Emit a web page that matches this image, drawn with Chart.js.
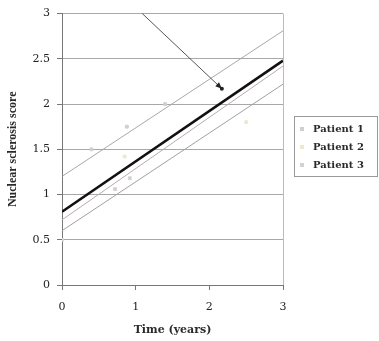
<!DOCTYPE html>
<html>
<head>
<meta charset="utf-8">
<script src="https://cdn.jsdelivr.net/npm/chart.js@4.4.0/dist/chart.umd.min.js"></script>
<style>
  html, body { margin: 0; padding: 0; background: #fff; }
  #wrap { width: 379px; height: 341px; }
</style>
</head>
<body>
<div id="wrap"><canvas id="chart"></canvas></div>
<script>
// tick labels
const xTicks = [0, 1, 2, 3];
const yTicks = [0, 0.5, 1, 1.5, 2, 2.5, 3];

// patient names and marker colours
const patients = ["Patient 1", "Patient 2", "Patient 3"];
const patientColors = ["#cfcfcf", "#eee8cc", "#d2d2d2"];

// raw observations (faint in the scan)
const p1Points = [{ x: 0.4, y: 1.5 }, { x: 0.88, y: 1.75 }, { x: 1.4, y: 2.0 }];
const p2Points = [{ x: 0.85, y: 1.42 }, { x: 2.5, y: 1.8 }];
const p3Points = [{ x: 0.0, y: 0.5 }, { x: 0.72, y: 1.06 }, { x: 0.92, y: 1.18 }];

// fitted lines (value at x=0 and x=3)
const p1Fit = [{ x: 0, y: 1.2 }, { x: 3, y: 2.81 }];
const p2Fit = [{ x: 0, y: 0.72 }, { x: 3, y: 2.42 }];
const p3Fit = [{ x: 0, y: 0.6 }, { x: 3, y: 2.22 }];
const meanFit = [{ x: 0, y: 0.81 }, { x: 3, y: 2.48 }];

// annotation arrow, from / to in data units
const arrowFrom = { x: 1.09, y: 3.0 };
const arrowTo = { x: 2.17, y: 2.17 };

const serif = "'Liberation Serif', 'DejaVu Serif', serif";
const wide = "'DejaVu Serif', serif";

const extras = {
  id: "extras",
  afterDraw(chart) {
    const ctx = chart.ctx;
    const xs = chart.scales.x, ys = chart.scales.y;
    // arrow
    const x1 = xs.getPixelForValue(arrowFrom.x), y1 = ys.getPixelForValue(arrowFrom.y);
    const x2 = xs.getPixelForValue(arrowTo.x), y2 = ys.getPixelForValue(arrowTo.y);
    ctx.save();
    ctx.strokeStyle = "#555";
    ctx.fillStyle = "#222";
    ctx.lineWidth = 1;
    ctx.beginPath();
    ctx.moveTo(x1, y1);
    ctx.lineTo(x2, y2);
    ctx.stroke();
    const a = Math.atan2(y2 - y1, x2 - x1);
    ctx.beginPath();
    ctx.moveTo(x2, y2);
    ctx.lineTo(x2 - 7 * Math.cos(a - 0.4), y2 - 7 * Math.sin(a - 0.4));
    ctx.lineTo(x2 - 7 * Math.cos(a + 0.4), y2 - 7 * Math.sin(a + 0.4));
    ctx.closePath();
    ctx.fill();
    ctx.beginPath();
    ctx.arc(x2, y2, 2, 0, Math.PI * 2);
    ctx.fill();
    // right border of plot
    const ca = chart.chartArea;
    ctx.strokeStyle = "#bbb";
    ctx.beginPath();
    ctx.moveTo(ca.right + 0.5, ca.top);
    ctx.lineTo(ca.right + 0.5, ca.bottom);
    ctx.stroke();
    // legend
    ctx.strokeStyle = "#999";
    ctx.strokeRect(294.5, 116.5, 83, 60);
    ctx.font = "bold 10px " + wide;
    ctx.textBaseline = "middle";
    ctx.textAlign = "left";
    patients.forEach((name, i) => {
      const cy = 129 + i * 18;
      ctx.fillStyle = patientColors[i];
      ctx.fillRect(300, cy - 2, 4, 4);
      ctx.fillStyle = "#2a2a2a";
      ctx.fillText(name, 313, cy);
    });
    ctx.restore();
  }
};

const fitStyle = { type: "line", showLine: true, pointRadius: 0, borderWidth: 1, fill: false };

new Chart(document.getElementById("chart"), {
  type: "scatter",
  data: {
    datasets: [
      { label: patients[0], data: p1Points, pointStyle: "rect", pointRadius: 2, backgroundColor: patientColors[0], borderColor: patientColors[0] },
      { label: patients[1], data: p2Points, pointStyle: "rect", pointRadius: 2, backgroundColor: patientColors[1], borderColor: patientColors[1] },
      { label: patients[2], data: p3Points, pointStyle: "rect", pointRadius: 2, backgroundColor: patientColors[2], borderColor: patientColors[2] },
      { ...fitStyle, label: "fit1", data: p1Fit, borderColor: "#a8a8a8" },
      { ...fitStyle, label: "fit2", data: p2Fit, borderColor: "#b8aab2" },
      { ...fitStyle, label: "fit3", data: p3Fit, borderColor: "#a0a0a0" },
      { ...fitStyle, label: "mean", data: meanFit, borderColor: "#111", borderWidth: 2.5 }
    ]
  },
  options: {
    responsive: true,
    maintainAspectRatio: false,
    animation: false,
    layout: { padding: { left: 0, right: 96, top: 11, bottom: 3 } },
    plugins: {
      tooltip: { enabled: false },
      legend: { display: false }
    },
    scales: {
      x: {
        type: "linear",
        min: 0,
        max: 3,
        afterBuildTicks: (s) => { s.ticks = xTicks.map((v) => ({ value: v })); },
        afterFit: (s) => { s.height = 53; },
        grid: { display: true, drawOnChartArea: false, drawTicks: true, tickLength: 5, color: "#777" },
        border: { color: "#777" },
        ticks: { color: "#222", padding: 11, font: { family: wide, size: 11 } },
        title: { display: true, text: "Time (years)", color: "#2a2a2a", padding: { top: 4, bottom: 1 }, font: { family: wide, size: 11, weight: "bold" } }
      },
      y: {
        type: "linear",
        min: 0,
        max: 3,
        afterBuildTicks: (s) => { s.ticks = yTicks.map((v) => ({ value: v })); },
        afterFit: (s) => { s.width = 62; },
        grid: { color: "#a8a8a8", tickLength: 5, tickColor: "#777" },
        border: { color: "#777" },
        ticks: { color: "#222", padding: 7, font: { family: wide, size: 11 }, callback: (v) => String(v) },
        title: { display: true, text: "Nuclear sclerosis score", color: "#2a2a2a", padding: { top: 6, bottom: 4 }, font: { family: serif, size: 12, weight: "bold" } }
      }
    }
  },
  plugins: [extras]
});
</script>
</body>
</html>
